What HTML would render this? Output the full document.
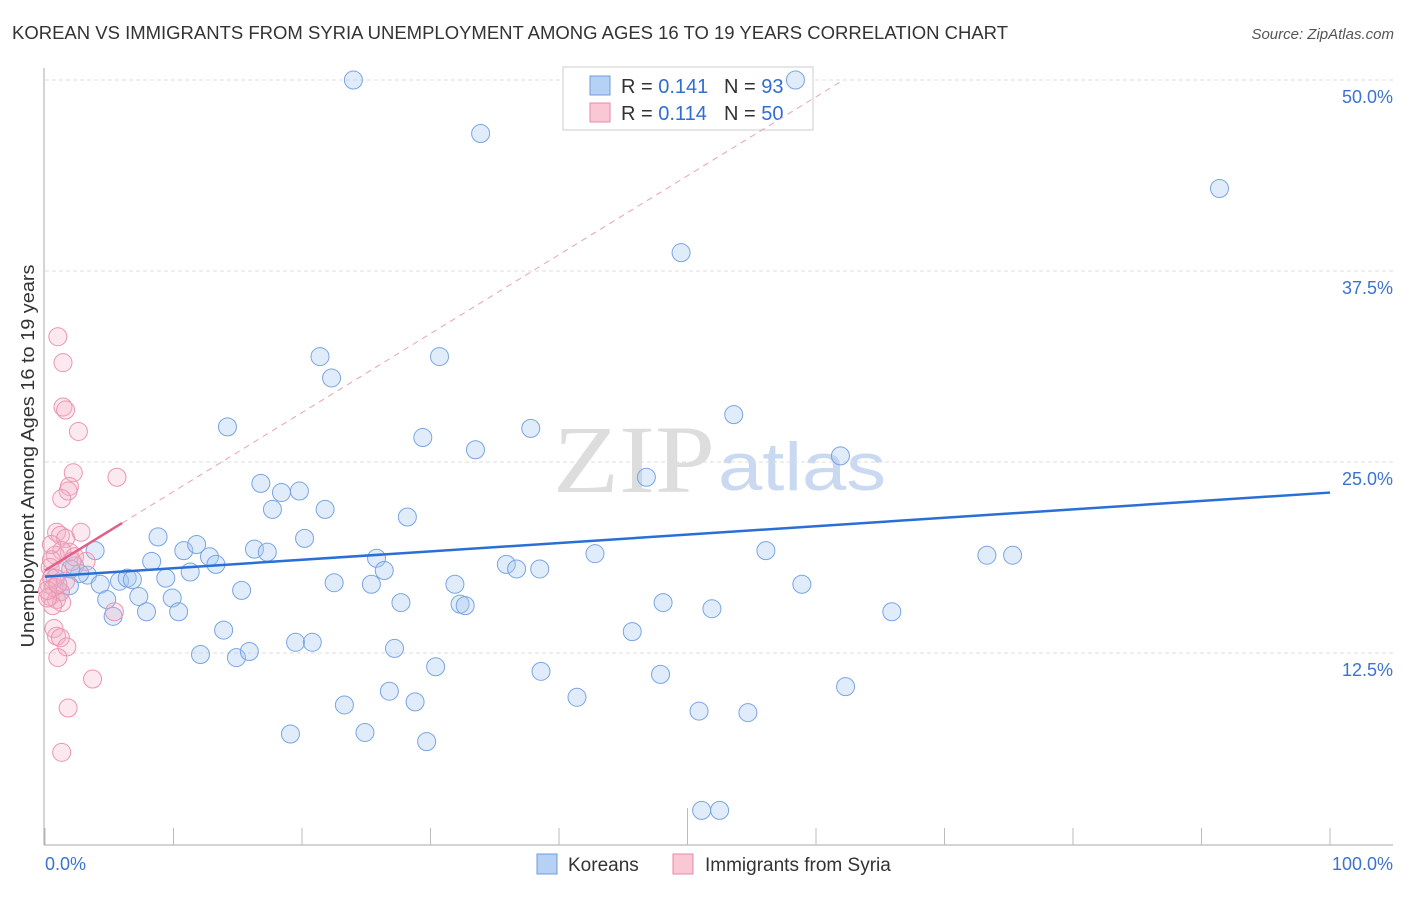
<!DOCTYPE html>
<html><head><meta charset="utf-8"><style>
body{margin:0;background:#fff;font-family:"Liberation Sans",sans-serif}
</style></head><body>
<svg id="chart" width="1406" height="892" xmlns="http://www.w3.org/2000/svg">
<text x="12" y="39" font-size="18" fill="#333" textLength="996" lengthAdjust="spacingAndGlyphs">KOREAN VS IMMIGRANTS FROM SYRIA UNEMPLOYMENT AMONG AGES 16 TO 19 YEARS CORRELATION CHART</text>
<text x="1394" y="39" font-size="15" fill="#555" text-anchor="end" font-style="italic">Source: ZipAtlas.com</text>
<text x="553" y="492" font-size="96" font-family="Liberation Serif" fill="#ddd" textLength="162" lengthAdjust="spacingAndGlyphs">ZIP</text>
<text x="718" y="490" font-size="68" fill="#c9d9f1" textLength="168" lengthAdjust="spacingAndGlyphs">atlas</text>
<g id="grid"></g>
<g id="axes"></g>
<g>
<rect x="563" y="67" width="250" height="63" fill="#fff" stroke="#ccc"/>
<rect x="590" y="76" width="20" height="19" fill="#b7d1f5" stroke="#6a9be0"/>
<rect x="590" y="103" width="20" height="19" fill="#fac7d5" stroke="#e88aa8"/>
<text x="621" y="93" font-size="20" fill="#333">R = <tspan fill="#2f6fd0">0.141</tspan></text>
<text x="724" y="93" font-size="20" fill="#333">N = <tspan fill="#2f6fd0">93</tspan></text>
<text x="621" y="120" font-size="20" fill="#333">R = <tspan fill="#2f6fd0">0.114</tspan></text>
<text x="724" y="120" font-size="20" fill="#333">N = <tspan fill="#2f6fd0">50</tspan></text>
</g>
<g id="pts"></g>
<g id="trends"></g>
<text transform="translate(34,456) rotate(-90)" font-size="18" fill="#333" text-anchor="middle" textLength="383" lengthAdjust="spacingAndGlyphs">Unemployment Among Ages 16 to 19 years</text>
<text x="45" y="870" font-size="18" fill="#3b73d0">0.0%</text>
<text x="1393" y="870" font-size="18" fill="#3b73d0" text-anchor="end">100.0%</text>
<g>
<rect x="537" y="854" width="20" height="20" fill="#b7d1f5" stroke="#6a9be0"/>
<text x="568" y="871" font-size="19" fill="#333">Koreans</text>
<rect x="673" y="854" width="20" height="20" fill="#fac7d5" stroke="#e88aa8"/>
<text x="705" y="871" font-size="19" fill="#333">Immigrants from Syria</text>
</g>
</svg>
<script>
const yTicks=[12.5,25,37.5,50];
const xTicks=[0,10,20,30,40,50,60,70,80,90,100];
const koreansX=[24.0,58.4,33.9,91.4,49.5,21.4,30.7,22.3,53.6,14.2,37.8,29.4,33.5,61.9,46.8,16.8,18.4,19.8,17.7,21.8,28.2,8.8,20.2,3.9,10.8,11.8,16.3,17.3,12.8,25.8,42.8,56.1,73.3,75.3,8.3,13.3,11.3,26.4,35.9,36.7,38.5,2.3,3.3,2.7,5.8,6.4,6.8,9.4,4.3,1.9,22.5,25.4,31.9,58.9,15.3,7.3,9.9,4.8,27.7,32.3,32.7,48.1,51.9,65.9,7.9,10.4,5.3,13.9,45.7,19.5,20.8,27.2,12.1,14.9,15.9,30.4,38.6,47.9,62.3,26.8,41.4,28.8,23.3,50.9,54.7,19.1,24.9,29.7,51.1,52.5,1.2,0.8,2.0];
const koreansY=[50.0,50.0,46.5,42.9,38.7,31.9,31.9,30.5,28.1,27.3,27.2,26.6,25.8,25.4,24.0,23.6,23.0,23.1,21.9,21.9,21.4,20.1,20.0,19.2,19.2,19.6,19.3,19.1,18.8,18.7,19.0,19.2,18.9,18.9,18.5,18.3,17.8,17.9,18.3,18.0,18.0,18.2,17.6,17.7,17.2,17.4,17.3,17.4,17.0,16.9,17.1,17.0,17.0,17.0,16.6,16.2,16.1,16.0,15.8,15.7,15.6,15.8,15.4,15.2,15.2,15.2,14.9,14.0,13.9,13.2,13.2,12.8,12.4,12.2,12.6,11.6,11.3,11.1,10.3,10.0,9.6,9.3,9.1,8.7,8.6,7.2,7.3,6.7,2.2,2.2,16.5,17.4,18.0];
const syriaX=[1.0,1.4,1.4,1.6,2.6,2.2,5.6,1.9,1.8,1.3,2.8,0.9,1.2,1.6,1.9,1.3,0.8,2.3,3.2,0.5,0.4,1.0,0.5,0.3,0.7,1.2,0.4,0.9,1.3,0.6,0.2,5.4,0.7,0.9,1.2,1.7,1.0,3.7,1.8,1.3,0.2,1.6,2.1,0.5,1.0];
const syriaY=[33.2,31.5,28.6,28.4,27.0,24.3,24.0,23.4,23.1,22.6,20.4,20.4,20.2,20.0,19.1,19.2,18.9,18.8,18.5,18.6,18.1,17.8,17.4,17.0,16.8,16.5,16.2,16.0,15.8,15.6,16.1,15.2,14.1,13.6,13.5,12.9,12.2,10.8,8.9,6.0,16.6,17.2,18.5,19.6,17.0];
const koreansTrend=[17.5,23.0];
const syriaTrend=[17.9,21.0];
const syriaSolidEnd=6;
const NS="http://www.w3.org/2000/svg";
const X=v=>45+12.85*v, Y=v=>844-15.28*v;
function mk(t,a,p){const e=document.createElementNS(NS,t);for(const k in a)e.setAttribute(k,a[k]);document.getElementById(p).appendChild(e);return e;}
yTicks.forEach(t=>{
 const l=mk('line',{x1:45,x2:1393,y1:Y(t),y2:Y(t),stroke:'#ddd','stroke-dasharray':'4,3'},'grid');
 
 
 const tx=mk('text',{x:1393,y:Y(t)+23,'font-size':18,fill:'#3b73d0','text-anchor':'end'},'grid');
 tx.textContent=t.toFixed(1)+'%';
 
 
});
const ax=mk('line',{x1:44,x2:44,y1:68,y2:845,stroke:'#aaa'},'axes');


const bx=mk('line',{x1:44,x2:1393,y1:845,y2:845,stroke:'#aaa'},'axes');


xTicks.forEach(t=>{
 const l=mk('line',{x1:X(t),x2:X(t),y1:t==50?808:828,y2:845,stroke:'#bbb'},'axes');
 
 
});
koreansX.forEach((v,i)=>{
 const c=mk('circle',{cx:X(v),cy:Y(koreansY[i]),r:9,fill:'rgba(170,200,242,0.35)',stroke:'#78a5e4','stroke-width':1},'pts');
 
 
});
syriaX.forEach((v,i)=>{
 const c=mk('circle',{cx:X(v),cy:Y(syriaY[i]),r:9,fill:'rgba(245,175,198,0.28)',stroke:'#eb95b0','stroke-width':1},'pts');
 
 
});
const kt=mk('line',{x1:X(0),y1:Y(koreansTrend[0]),x2:X(100),y2:Y(koreansTrend[1]),stroke:'#2a6fd6','stroke-width':2.5},'trends');


const slope=(syriaTrend[1]-syriaTrend[0])/syriaSolidEnd;
const xe=(50-syriaTrend[0])/slope;
const sd=mk('line',{x1:X(syriaSolidEnd),y1:Y(syriaTrend[1]),x2:X(xe),y2:Y(50),stroke:'#eba0b8','stroke-width':1,'stroke-dasharray':'6,5'},'trends');


const st=mk('line',{x1:X(0),y1:Y(syriaTrend[0]),x2:X(syriaSolidEnd),y2:Y(syriaTrend[1]),stroke:'#e0608a','stroke-width':2.5},'trends');


</script>
</body></html>
